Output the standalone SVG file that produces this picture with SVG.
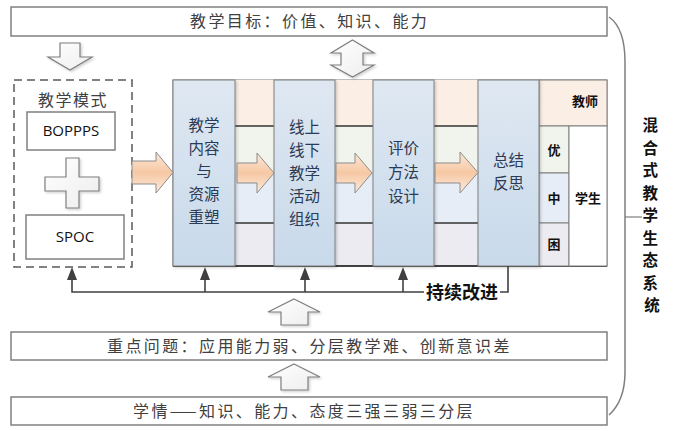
<svg xmlns="http://www.w3.org/2000/svg" width="674" height="431" viewBox="0 0 674 431">
<defs>
<linearGradient id="gBlue" x1="0" y1="0" x2="0" y2="1">
<stop offset="0" stop-color="#DFE8F2"/><stop offset="1" stop-color="#C8D9EA"/>
</linearGradient>
<linearGradient id="gOrange" x1="0" y1="0" x2="0" y2="1">
<stop offset="0" stop-color="#FCE8D8"/><stop offset="0.5" stop-color="#F6C8A4"/><stop offset="1" stop-color="#FCEBDE"/>
</linearGradient>
<linearGradient id="gWhite" x1="0" y1="0" x2="1" y2="1">
<stop offset="0" stop-color="#FFFFFF"/><stop offset="1" stop-color="#EDEDED"/>
</linearGradient>
<filter id="sh" x="-20%" y="-20%" width="140%" height="140%">
<feDropShadow dx="1.5" dy="1.5" stdDeviation="1.2" flood-color="#000" flood-opacity="0.18"/>
</filter>
<style>
.box{fill:#fff;stroke:#808080;stroke-width:1.5}
.cn{font-family:"Noto Sans CJK SC","Liberation Sans",sans-serif;fill:#404040}
.bar{font-size:16px;letter-spacing:2.4px}
.col{stroke:#7F7F7F;stroke-width:1;fill:url(#gBlue)}
.ct{font-family:"Noto Sans CJK SC",sans-serif;font-size:15.5px;fill:#2B3A55;text-anchor:middle}
.oa{fill:url(#gOrange);stroke:#8C8C8C;stroke-width:1}
.wa{fill:url(#gWhite);stroke:#7F7F7F;stroke-width:1.2}
.b{font-family:"Noto Sans CJK SC",sans-serif;font-weight:bold;fill:#111;text-anchor:middle}
.lat{font-family:"Open Sans","Liberation Sans",sans-serif;font-size:15px;fill:#111;text-anchor:middle}
.cell{stroke:#7F7F7F;stroke-width:1}
.conn{fill:none;stroke:#404040;stroke-width:1.6}
.head{fill:#404040}
</style>
</defs>
<rect width="674" height="431" fill="#fff"/>

<g id="goal">
<rect class="box" x="11" y="7" width="596" height="29"/>
<text class="cn bar" x="190" y="27">教学目标：价值、知识、能力</text>
</g>
<g id="problem">
<rect class="box" x="11" y="332" width="596" height="28"/>
<text class="cn bar" x="107" y="352">重点问题：应用能力弱、分层教学难、创新意识差</text>
</g>
<g id="situation">
<rect class="box" x="11" y="397" width="596" height="28"/>
<text class="cn bar" x="133" y="417">学情——知识、能力、态度三强三弱三分层</text>
</g>

<g id="mode">
<rect x="14" y="80" width="118" height="187" fill="#fff" stroke="#595959" stroke-width="1.5" stroke-dasharray="8,5"/>
<text class="cn" x="73" y="106" font-size="16" letter-spacing="1.5" text-anchor="middle">教学模式</text>
<rect class="box" x="27" y="112" width="88" height="38"/>
<text class="lat" x="71" y="136">BOPPPS</text>
<polygon class="wa" filter="url(#sh)" points="66,158 79,158 79,177 99,177 99,191 79,191 79,208 66,208 66,191 45,191 45,177 66,177"/>
<rect class="box" x="26" y="215" width="98" height="44"/>
<text class="lat" x="75" y="242">SPOC</text>
</g>

<g id="band">
<rect x="173" y="80" width="434" height="186" fill="#fff" stroke="#7F7F7F"/>
<rect x="235" y="80" width="304" height="46" fill="#FBEEE5"/>
<rect x="235" y="126" width="304" height="47" fill="#F1F4EC"/>
<rect x="235" y="173" width="304" height="50" fill="#E6EDF6"/>
<rect x="235" y="223" width="304" height="43" fill="#ECEBF1"/>
<line x1="235" y1="126" x2="539" y2="126" stroke="#333" stroke-width="1.3"/>
<line x1="235" y1="223" x2="539" y2="223" stroke="#333" stroke-width="1.3"/>
<line x1="173" y1="266" x2="607" y2="266" stroke="#404040" stroke-width="2"/>
</g>

<g id="right-table">
<rect class="cell" x="539" y="80" width="68" height="46" fill="#FBEEE5"/>
<rect class="cell" x="539" y="126" width="30" height="47" fill="#F1F4EC"/>
<rect class="cell" x="539" y="173" width="30" height="50" fill="#E6EDF6"/>
<rect class="cell" x="539" y="223" width="30" height="43" fill="#ECEBF1"/>
<rect class="cell" x="569" y="126" width="38" height="140" fill="#fff"/>
<text class="b" x="585" y="106" font-size="13">教师</text>
<text class="b" x="554" y="155" font-size="13">优</text>
<text class="b" x="554" y="203" font-size="13">中</text>
<text class="b" x="554" y="249" font-size="13">困</text>
<text class="b" x="588" y="203" font-size="13">学生</text>
</g>

<g id="col1">
<rect class="col" filter="url(#sh)" x="173" y="80" width="62" height="186"/>
<text class="ct" x="204" y="131">教学</text>
<text class="ct" x="204" y="154">内容</text>
<text class="ct" x="204" y="177">与</text>
<text class="ct" x="204" y="200">资源</text>
<text class="ct" x="204" y="223">重塑</text>
</g>
<g id="col2">
<rect class="col" filter="url(#sh)" x="274" y="80" width="61" height="186"/>
<text class="ct" x="304.5" y="133">线上</text>
<text class="ct" x="304.5" y="156">线下</text>
<text class="ct" x="304.5" y="179">教学</text>
<text class="ct" x="304.5" y="202">活动</text>
<text class="ct" x="304.5" y="225">组织</text>
</g>
<g id="col3">
<rect class="col" filter="url(#sh)" x="373" y="80" width="61" height="186"/>
<text class="ct" x="403.5" y="154">评价</text>
<text class="ct" x="403.5" y="178">方法</text>
<text class="ct" x="403.5" y="202">设计</text>
</g>
<g id="col4">
<rect class="col" filter="url(#sh)" x="478" y="80" width="61" height="186"/>
<text class="ct" x="508.5" y="166">总结</text>
<text class="ct" x="508.5" y="189">反思</text>
</g>

<g id="flow-arrows">
<polygon class="oa" points="132,161 156,161 156,152 173,172.5 156,193 156,184 132,184"/>
<polygon class="oa" points="237,163 257,163 257,153 274,173 257,193 257,183 237,183"/>
<polygon class="oa" points="336,163 355,163 355,153 372,173 355,193 355,183 336,183"/>
<polygon class="oa" points="435,163 460,163 460,152 478,172.5 460,193 460,183 435,183"/>
</g>

<g id="block-arrows">
<polygon class="wa" filter="url(#sh)" points="60,43 80,43 80,57 92,57 70,70 48,57 60,57"/>
<polygon class="wa" filter="url(#sh)" points="352.5,40 374,53 363,53 363,65 374,65 352.5,77 331,65 341,65 341,53 331,53"/>
<polygon class="wa" filter="url(#sh)" points="294,299 320,312 308,312 308,325 281,325 281,312 268,312"/>
<polygon class="wa" filter="url(#sh)" points="294,364 320,377 308,377 308,390 281,390 281,377 268,377"/>
</g>

<g id="connectors">
<polyline class="conn" points="72,278 72,292 424,292"/>
<line class="conn" x1="205" y1="292" x2="205" y2="278"/>
<line class="conn" x1="305" y1="292" x2="305" y2="278"/>
<line class="conn" x1="403" y1="292" x2="403" y2="278"/>
<polygon class="head" points="72,267 77,280 67,280"/>
<polygon class="head" points="205,267 210,280 200,280"/>
<polygon class="head" points="305,267 310,280 300,280"/>
<polygon class="head" points="403,267 408,280 398,280"/>
<polyline class="conn" points="500,292 508,292 508,266"/>
<text class="b" x="462" y="299" font-size="18">持续改进</text>
</g>

<g id="ecosystem">
<path d="M609,17 C619,24 625,40 625,62 L625,372 C625,392 619,406 609,415" fill="none" stroke="#7F7F7F" stroke-width="1.5"/>
<line x1="625" y1="217" x2="642" y2="217" stroke="#7F7F7F" stroke-width="1.2"/>
<text class="b" font-size="15.5" text-anchor="middle">
<tspan x="652" y="131">混</tspan>
<tspan x="652" y="153.5">合</tspan>
<tspan x="652" y="176">式</tspan>
<tspan x="652" y="198.5">教</tspan>
<tspan x="652" y="221">学</tspan>
<tspan x="652" y="243.5">生</tspan>
<tspan x="652" y="266">态</tspan>
<tspan x="652" y="288.5">系</tspan>
<tspan x="652" y="311">统</tspan>
</text>
</g>
</svg>
